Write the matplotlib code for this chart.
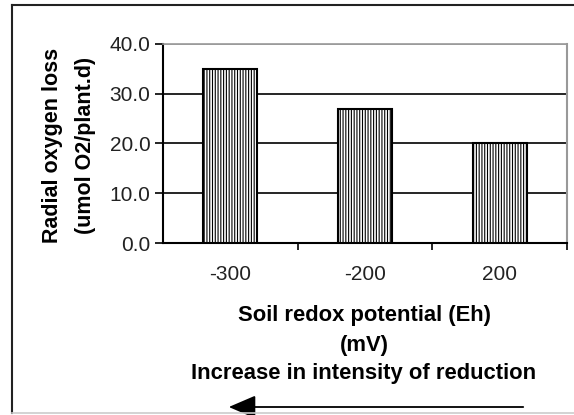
import matplotlib.pyplot as plt
from matplotlib.lines import Line2D

plt.rcParams['font.family'] = ['Liberation Sans', 'DejaVu Sans']
plt.rcParams['hatch.color'] = '#999999'
plt.rcParams['hatch.linewidth'] = 0.8

categories = ['-300', '-200', '200']
values = [35.0, 27.0, 20.0]
yticks = [0, 10, 20, 30, 40]

W, H = 574, 415
fig = plt.figure(figsize=(W / 100, H / 100), dpi=100)
ax = fig.add_axes([163 / W, (H - 243) / H, 404 / W, 199 / H])

x = list(range(len(categories)))
ax.bar(x, values, width=0.4, color='white', edgecolor='black', linewidth=1.5,
       hatch='||||||', zorder=3)

ax.set_xlim(-0.5, len(categories) - 0.5)
ax.set_ylim(0, 40)
ax.set_yticks(yticks)
ax.set_yticklabels([f'{v:.1f}' for v in yticks], fontsize=15, color='#222222')
ax.set_xticks(x)
ax.set_xticklabels(categories, fontsize=15, color='#222222')
ax.tick_params(axis='x', length=0, pad=16)
ax.set_xticks([i + 0.5 for i in x], minor=True)
ax.tick_params(axis='x', which='minor', length=5, width=1.2, direction='out')
ax.tick_params(axis='y', length=6, width=1.2, direction='out', pad=3)

for v in yticks[1:-1]:
    ax.axhline(v, color='black', linewidth=1.2, zorder=1)
ax.axhline(40, color='#999999', linewidth=1.2, zorder=1)

ax.spines['left'].set_linewidth(1.5)
ax.spines['bottom'].set_linewidth(1.5)
ax.spines['top'].set_color('#999999')
ax.spines['right'].set_color('#999999')
ax.spines['right'].set_linewidth(1.5)
ax.spines['top'].set_linewidth(1.2)

def fx(px):
    return px / W

def fy(py):
    return 1 - py / H

fig.text(fx(53), fy(145), 'Radial oxygen loss', rotation=90, ha='center', va='center',
         fontsize=15.5, fontweight='bold')
fig.text(fx(85), fy(145), '(umol O2/plant.d)', rotation=90, ha='center', va='center',
         fontsize=15.5, fontweight='bold')

fig.text(fx(364), fy(315), 'Soil redox potential (Eh)', ha='center', va='center',
         fontsize=15.8, fontweight='bold')
fig.text(fx(364), fy(345), '(mV)', ha='center', va='center', fontsize=15.8, fontweight='bold')
fig.text(fx(364), fy(373), 'Increase in intensity of reduction', ha='center', va='center',
         fontsize=15.8, fontweight='bold')

ax.annotate('', xy=(fx(226), fy(407)), xytext=(fx(526), fy(407)),
            xycoords='figure fraction', textcoords='figure fraction',
            arrowprops=dict(arrowstyle='-|>,head_length=0.7,head_width=0.3',
                            color='black', lw=1.3, mutation_scale=24))

# outer chart border (top and left dark, bottom light)
fig.lines.append(Line2D([fx(12), 1], [fy(5), fy(5)], transform=fig.transFigure,
                        color='#222222', linewidth=1.5))
fig.lines.append(Line2D([fx(12), fx(12)], [fy(5), fy(413)], transform=fig.transFigure,
                        color='#222222', linewidth=1.5))
fig.lines.append(Line2D([fx(12), 1], [fy(413), fy(413)], transform=fig.transFigure,
                        color='#cccccc', linewidth=1.2))

fig.savefig('out.png', dpi=100)
